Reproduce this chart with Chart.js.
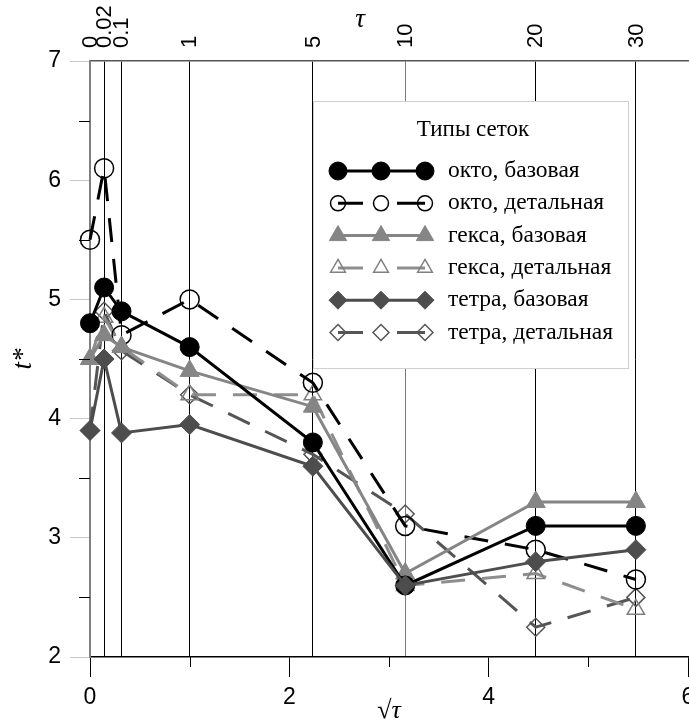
<!DOCTYPE html>
<html><head><meta charset="utf-8">
<script src="https://cdn.jsdelivr.net/npm/chart.js@4/dist/chart.umd.min.js"></script>
<style>html,body{margin:0;padding:0;overflow:hidden;background:#fff}#wrap{position:relative;width:720px;height:724px}</style>
</head><body><div id="wrap"><canvas id="c" width="720" height="724"></canvas></div>
<script>
// ---- data ----
const tauValues = [0, 0.02, 0.1, 1, 5, 10, 20, 30];
const tauLabels = ['0', '0.02', '0.1', '1', '5', '10', '20', '30'];
const bottomTickValues = [0, 2, 4, 6];
const seriesNames = ['окто, базовая', 'окто, детальная', 'гекса, базовая', 'гекса, детальная', 'тетра, базовая', 'тетра, детальная'];
const oktoBase  = [4.8, 5.1, 4.9, 4.6, 3.8, 2.6, 3.1, 3.1];
const oktoDet   = [5.5, 6.1, 4.7, 5.0, 4.3, 3.1, 2.9, 2.65];
const hexaBase  = [4.5, 4.7, 4.6, 4.4, 4.1, 2.7, 3.3, 3.3];
const hexaDet   = [4.5, 4.85, 4.6, 4.2, 4.2, 2.6, 2.7, 2.4];
const tetraBase = [3.9, 4.5, 3.88, 3.95, 3.6, 2.6, 2.8, 2.9];
const tetraDet  = [3.9, 4.9, 4.57, 4.2, 3.7, 3.2, 2.25, 2.5];

const xPos = tauValues.map(t => Math.sqrt(t));
const pts = arr => arr.map((v, i) => ({x: xPos[i], y: v}));

const TRANSP = 'rgba(0,0,0,0)';
const styles = [
  {data: oktoBase,  line: '#000000', dash: [], style: 'circle',  r: 9.5, lr: 9,   fill: '#000000', stroke: '#000000', bw: 1},
  {data: oktoDet,   line: '#000000', dash: [24, 17], style: 'circle',  r: 9.5, lr: 7.5, fill: TRANSP, stroke: '#000000', bw: 1.5},
  {data: hexaBase,  line: '#858585', dash: [], style: 'triangle', r: 11, lr: 10,  fill: '#858585', stroke: '#858585', bw: 1},
  {data: hexaDet,   line: '#8e8e8e', dash: [24, 17], style: 'triangle', r: 10, lr: 8.5, fill: TRANSP, stroke: '#808080', bw: 1.5},
  {data: tetraBase, line: '#4d4d4d', dash: [], style: 'rectRot', r: 10, lr: 9,   fill: '#4d4d4d', stroke: '#4d4d4d', bw: 1},
  {data: tetraDet,  line: '#555555', dash: [24, 17], style: 'rectRot', r: 9, lr: 8, fill: TRANSP, stroke: '#555555', bw: 1.5}
];

function makeDataset(i) {
  const s = styles[i];
  return {
    label: seriesNames[i],
    data: pts(s.data),
    borderColor: s.line,
    backgroundColor: s.fill,
    borderWidth: 3,
    borderDash: s.dash,
    tension: 0,
    pointStyle: s.style,
    pointRadius: s.r,
    pointHoverRadius: s.r,
    pointBackgroundColor: s.fill,
    pointBorderColor: s.stroke,
    pointBorderWidth: s.bw,
    clip: false
  };
}
// index 0 is drawn on top in Chart.js
const drawOrder = [4, 0, 2, 1, 3, 5];

const extras = {
  id: 'extras',
  afterDatasetsDraw(chart) {
    const ctx = chart.ctx;
    const xs = chart.scales.x, ys = chart.scales.y;
    ctx.save();
    // minor ticks
    ctx.strokeStyle = '#000'; ctx.lineWidth = 1;
    [2.5, 3.5, 4.5, 5.5, 6.5].forEach(v => {
      const py = Math.round(ys.getPixelForValue(v)) + 0.5;
      ctx.beginPath(); ctx.moveTo(ys.right - 11, py); ctx.lineTo(ys.right, py); ctx.stroke();
    });
    [1, 3, 5].forEach(v => {
      const px = Math.round(xs.getPixelForValue(v)) + 0.5;
      ctx.beginPath(); ctx.moveTo(px, xs.top); ctx.lineTo(px, xs.top + 10); ctx.stroke();
    });
    // top axis title
    ctx.fillStyle = '#000';
    ctx.font = 'italic 27px "Liberation Serif"';
    ctx.textAlign = 'center'; ctx.textBaseline = 'middle';
    ctx.fillText('τ', 360, 20);
    // legend
    const L = 313.5, T = 101.5, W = 315, H = 267;
    ctx.fillStyle = '#fff'; ctx.fillRect(L, T, W, H);
    ctx.strokeStyle = '#cfcfcf'; ctx.lineWidth = 1; ctx.strokeRect(L, T, W, H);
    ctx.fillStyle = '#000';
    ctx.font = '23px "Liberation Serif"';
    ctx.textAlign = 'center';
    ctx.fillText('Типы сеток', 473, 130);
    const mx = [338, 381, 425];
    for (let i = 0; i < 6; i++) {
      const s = styles[i];
      const y = 171 + i * 32.3;
      ctx.strokeStyle = s.line; ctx.lineWidth = 3; ctx.setLineDash([]);
      ctx.beginPath();
      if (s.dash.length) {
        ctx.moveTo(mx[0], y); ctx.lineTo(mx[0] + 25, y);
        ctx.moveTo(mx[2] - 28, y); ctx.lineTo(mx[2], y);
      } else {
        ctx.moveTo(mx[0], y); ctx.lineTo(mx[2], y);
      }
      ctx.stroke();
      mx.forEach(x => {
        ctx.fillStyle = s.fill; ctx.strokeStyle = s.stroke; ctx.lineWidth = s.bw;
        Chart.helpers.drawPoint(ctx, {pointStyle: s.style, radius: s.lr, rotation: 0, borderWidth: s.bw}, x, y);
      });
      ctx.fillStyle = '#000';
      ctx.textAlign = 'left';
      ctx.font = '23.5px "Liberation Serif"';
      ctx.fillText(seriesNames[i], 448, y);
    }
    ctx.restore();
  }
};

new Chart(document.getElementById('c'), {
  type: 'line',
  data: {datasets: drawOrder.map(makeDataset)},
  options: {
    responsive: false,
    animation: false,
    devicePixelRatio: 1,
    layout: {padding: {left: 0, right: 32, top: 0, bottom: 0}},
    plugins: {legend: {display: false}, tooltip: {enabled: false}},
    scales: {
      x: {
        type: 'linear', position: 'bottom', min: 0, max: 6,
        afterBuildTicks: s => { s.ticks = bottomTickValues.map(v => ({value: v})); },
        afterFit: s => { s.height = 67; },
        grid: {drawOnChartArea: false, drawTicks: true, tickLength: 20, color: '#000', lineWidth: 1},
        border: {display: true, color: '#000', width: 1.5},
        ticks: {padding: 7, color: '#000', font: {family: '"Liberation Sans", Arial', size: 23}, maxRotation: 0},
        title: {display: true, text: '√τ', color: '#000', font: {family: '"Liberation Serif"', size: 26, style: 'italic', lineHeight: 1.0}, padding: {top: 0, bottom: 0}}
      },
      x2: {
        type: 'linear', position: 'top', min: 0, max: 6,
        afterBuildTicks: s => { s.ticks = xPos.map(v => ({value: v})); },
        afterFit: s => { s.height = 61; },
        grid: {drawOnChartArea: true, drawTicks: false, lineWidth: 1,
          color: c => (c.index === 0 || c.index === 5) ? '#7a7a7a' : '#000'},
        border: {display: true, color: '#555', width: 1.5},
        ticks: {autoSkip: false, minRotation: 90, maxRotation: 90, padding: 13, labelOffset: 27, color: '#000',
          font: {family: '"Liberation Sans", Arial', size: 22},
          callback: (v, i) => tauLabels[i]}
      },
      y: {
        type: 'linear', position: 'left', min: 2, max: 7,
        afterFit: s => { s.width = 90; },
        ticks: {stepSize: 1, padding: 9, color: '#000', font: {family: '"Liberation Sans", Arial', size: 23}},
        grid: {drawOnChartArea: false, drawTicks: true, tickLength: 20, color: '#c8c8c8', lineWidth: 1},
        border: {display: true, color: '#808080', width: 2},
        title: {display: true, text: 't*', color: '#000', font: {family: '"Liberation Serif"', size: 27, style: 'italic'}, padding: {top: 8, bottom: 0}}
      }
    }
  },
  plugins: [extras]
});
</script></body></html>
